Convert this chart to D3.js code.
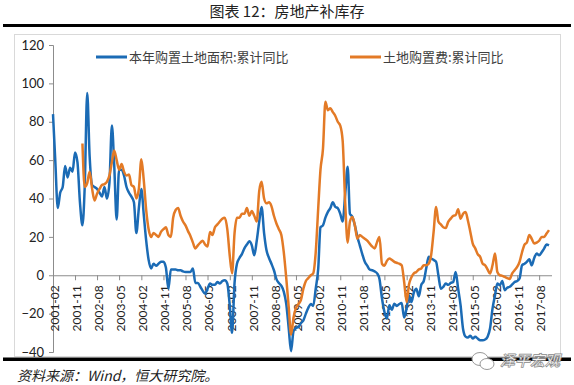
<!DOCTYPE html>
<html>
<head>
<meta charset="utf-8">
<script src="https://cdn.jsdelivr.net/npm/d3@7"></script>
<style>
body { margin: 0; background: #fff; }
svg { display: block; }
</style>
</head>
<body>
<div id="chart"></div>
<script>
// monthly, 2001-02 .. 2017-12
var months = d3.timeMonth.range(new Date(2001, 1, 1), new Date(2018, 0, 1));

// 本年购置土地面积:累计同比
var landArea = [
	84, 60, 35, 43, 46, 57, 51, 56, 54, 64, 59,
	38, 26, 46, 95, 62, 47, 46, 45, 43, 41, 46, 40,
	48, 78, 58, 29, 55, 55, 52, 46, 43, 41, 38, 22,
	35, 45, 32, 18, 8, 3.5, 6, 5, 6, 7, 7, 4,
	-7, 3, 3, 3, 2.6, 2.6, 2, 1.7, 1.7, 1.7, 3.5, -4,
	-4, -6, -8, -9.6, -7, -4.3, -5, -5, -3.5, -4.3, -3, -2.6,
	-4.3, -16, -30, -4, 6, 9, 11, 14, 16, 17.7, 15.6, 10.4,
	18, 28, 35.6, 22, 13, 9, 6, 2.6, -2, -4, -5.5, -8.5,
	-15, -28, -39.6, -29, -27.5, -27, -25, -23.5, -20, -17, -15, -16,
	-7, 3.5, 25, 26, 30, 33, 35, 38, 35.6, 35, 32, 28,
	42, 56.5, 32, 30.4, 26, 20, 15.6, 11, 7, 5, 3, 2.6,
	2, 1, -2, -12, -19, -22.6, -15.6, -18, -14.8, -16, -15, -14.5,
	-22, -17, -10.4, -14, -9, -7, -11, -5, -3, 3.5, 9.6, 8.7,
	8, 7, 0, -7, -6, -4.3, -5, -4, -3.5, 1.7, -7, -15.6,
	-28, -32, -32.5, -31.5, -33, -32, -33, -33.9, -33.9, -33.5, -32, -27.8,
	-17.4, -10.4, -4.3, -5.2, -3, -7.8, -6.5, -6, -4.8, -3.5, -3, -1.7,
	5.2, 6, 7, 8.3, 5.2, 9, 11.3, 10.4, 12, 13.9, 16, 15.6
];

// 土地购置费:累计同比 (starts 2002-02)
var landCost = [
	null, null, null, null, null, null, null, null, null, null, null,
	null, 68.7, 46, 48, 54, 45, 39, 42.5, 45, 47, 47.5, 48.7,
	52, 59, 65, 60, 55, 58, 54, 52, 52.5, 47, 46, 40,
	45, 60.5, 50, 34, 24, 20, 22, 21, 20, 22.6, 24, 25,
	21, 20, 30, 34, 35, 31, 28, 26, 23, 20.5, 17, 14,
	15.6, 17, 18, 16, 15, 22.6, 21, 25, 26.5, 28, 29.5, 30,
	24, 10, 1, 22, 30, 30, 32, 32, 35, 31, 33.5, 31,
	28, 44, 48.7, 40, 37.5, 38, 36, 31, 27, 24, 21, 12,
	-1.6, -17, -31, -22, -17, -15, -13, -7, -3, -1.5, 0, 1,
	12, 35, 55, 66, 90.4, 86, 87, 85, 83, 80, 78, 70,
	38, 17, 28, 30.4, 26, 19, 21, 20, 19, 18, 16.5, 15,
	14, 17.4, 20, 6, 5, 7.5, 8.7, 8, 7, 6.5, 6, 5.2,
	-3.5, -14, -5, -1, 1, 1.7, 3, 3.5, 5.2, 5.2, 6, 10.4,
	22.6, 35.6, 28, 26.5, 25, 24.6, 27.8, 29.5, 31, 31.3, 34.4, 29.5,
	32, 33, 28.7, 22.6, 16.5, 14, 11, 9.6, 6, 5.2, 3, 0.9,
	5.2, 11.3, 1.7, 0, -0.3, -0.9, -1.5, -2, 1, 2.6, 4.3, 7,
	12, 16, 17, 21, 19, 16.5, 17, 18, 20, 20, 21.7, 23.5
];

var yTicks = [-40, -20, 0, 20, 40, 60, 80, 100, 120];
var seriesNames = ["本年购置土地面积:累计同比", "土地购置费:累计同比"];
var colors = ["#1B6BB5", "#E37A26"];

var width = 574, height = 385;
var svg = d3.select("#chart").append("svg")
	.attr("width", width)
	.attr("height", height);

// title + rules
svg.append("text")
	.attr("x", 287).attr("y", 17)
	.attr("text-anchor", "middle")
	.style("font-family", "'Noto Sans CJK SC'")
	.style("font-size", "15px")
	.style("fill", "#222")
	.text("图表 12：房地产补库存");
svg.append("rect").attr("x", 3).attr("y", 24).attr("width", 568).attr("height", 3).attr("fill", "#000");

// chart frame
svg.append("rect")
	.attr("x", 14.5).attr("y", 34.5).attr("width", 546).attr("height", 322)
	.attr("fill", "none").attr("stroke", "#d9d9d9");

var x = d3.scaleTime()
	.domain([months[0], d3.timeMonth.offset(months[months.length - 1], 1)])
	.range([53, 551.5]);
var y = d3.scaleLinear().domain([-40, 120]).range([352, 45]);

// y axis
var yAxis = svg.append("g")
	.attr("transform", "translate(53,0)")
	.call(d3.axisLeft(y).tickValues(yTicks).tickSize(4).tickPadding(5));
yAxis.select(".domain").attr("stroke", "#8c8c8c");
yAxis.selectAll(".tick line").attr("stroke", "#8c8c8c");
yAxis.selectAll("text")
	.style("font-family", "Lato, 'Open Sans', sans-serif")
	.style("font-size", "13px")
	.style("fill", "#222");

// x axis at zero
var xTicks = months.filter(function (d, i) { return i % 9 === 0; });
var xAxis = svg.append("g")
	.attr("transform", "translate(0," + y(0) + ")")
	.call(d3.axisBottom(x).tickValues(xTicks).tickSize(5).tickSizeOuter(0).tickFormat(d3.timeFormat("%Y-%m")));
xAxis.select(".domain").attr("stroke", "#8c8c8c");
xAxis.selectAll(".tick line").attr("stroke", "#8c8c8c");
xAxis.selectAll("text")
	.attr("transform", "rotate(-90)")
	.attr("text-anchor", "end")
	.attr("x", -10)
	.attr("y", 0)
	.attr("dy", "0.45em")
	.style("font-family", "Lato, 'Open Sans', sans-serif")
	.style("font-size", "12px")
	.style("fill", "#222");

// lines
var line = d3.line()
	.defined(function (d) { return d != null; })
	.x(function (d, i) { return x(months[i]); })
	.y(function (d) { return y(d); })
	.curve(d3.curveMonotoneX);

[landArea, landCost].forEach(function (s, k) {
	svg.append("path")
		.datum(s)
		.attr("d", line)
		.attr("fill", "none")
		.attr("stroke", colors[k])
		.attr("stroke-width", 2.5)
		.attr("stroke-linejoin", "round");
});

// legend
var legendX = [96, 350];
seriesNames.forEach(function (name, k) {
	var g = svg.append("g").attr("transform", "translate(" + legendX[k] + ",57)");
	g.append("line").attr("x1", 0).attr("x2", 31).attr("y1", 0).attr("y2", 0)
		.attr("stroke", colors[k]).attr("stroke-width", 3);
	g.append("text").attr("x", 33).attr("y", 0).attr("dy", "0.35em")
		.style("font-family", "'Noto Sans CJK SC'")
		.style("font-size", "13px")
		.style("fill", "#404040")
		.text(name);
});

// bottom rule + source
svg.append("rect").attr("x", 3).attr("y", 357.5).attr("width", 568).attr("height", 3.5).attr("fill", "#000");
svg.append("text")
	.attr("x", 17).attr("y", 381)
	.style("font-family", "'Noto Sans CJK SC'")
	.style("font-size", "14px")
	.style("font-style", "italic")
	.style("fill", "#222")
	.text("资料来源：Wind，恒大研究院。");

// watermark
var wm = svg.append("g").attr("transform", "translate(472,360)");
wm.append("ellipse").attr("cx", 8).attr("cy", -1).attr("rx", 8).attr("ry", 6.5)
	.attr("fill", "#fff").attr("stroke", "#999").attr("stroke-width", 1);
wm.append("ellipse").attr("cx", 15).attr("cy", 4).attr("rx", 7).attr("ry", 5.5)
	.attr("fill", "#fff").attr("stroke", "#999").attr("stroke-width", 1);
wm.append("text").attr("x", 28).attr("y", 6)
	.style("font-family", "'Noto Sans CJK SC'")
	.style("font-size", "15px")
	.style("font-style", "italic")
	.style("font-weight", "bold")
	.style("fill", "#f4f4f4")
	.style("stroke", "#8a8a8a")
	.style("stroke-width", "0.7px")
	.text("泽平宏观");
</script>
</body>
</html>
